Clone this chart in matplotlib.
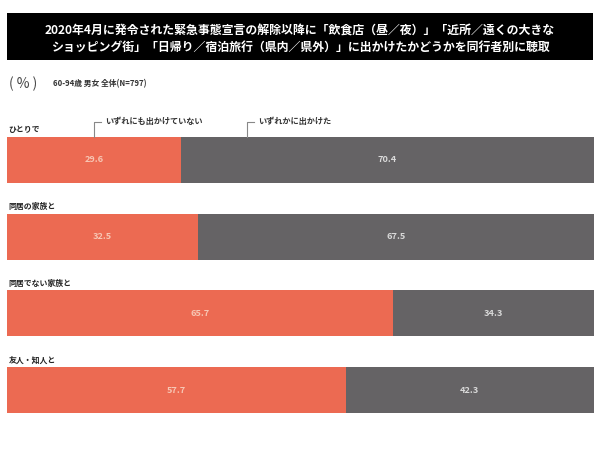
import matplotlib
matplotlib.use('Agg')
import matplotlib.pyplot as plt

plt.rcParams['font.family'] = ['Noto Sans CJK JP', 'DejaVu Sans']

categories = ['ひとりで', '同居の家族と', '同居でない家族と', '友人・知人と']
not_out = [29.6, 32.5, 65.7, 57.7]     # いずれにも出かけていない
went_out = [70.4, 67.5, 34.3, 42.3]    # いずれかに出かけた
series_names = ['いずれにも出かけていない', 'いずれかに出かけた']

title_lines = ['2020年4月に発令された緊急事態宣言の解除以降に「飲食店（昼／夜）」「近所／遠くの大きな',
               'ショッピング街」「日帰り／宿泊旅行（県内／県外）」に出かけたかどうかを同行者別に聴取']
unit = '( % )'
sample = '60-94歳 男女 全体(N=797)'

orange = '#EC6A52'
grey = '#656365'

W, H = 600, 455
fig = plt.figure(figsize=(6, 4.55), dpi=100)
fig.patch.set_facecolor('white')

# title box
tax = fig.add_axes([7 / W, 1 - 60 / H, 586 / W, 47 / H])
tax.set_facecolor('black')
tax.set_xticks([])
tax.set_yticks([])
for s in tax.spines.values():
    s.set_visible(False)
tax.text(0.5, 0.62, title_lines[0], color='white', fontsize=8.6, fontweight='bold',
         ha='center', va='center', transform=tax.transAxes)
tax.text(0.5, 0.27, title_lines[1], color='white', fontsize=8.6, fontweight='bold',
         ha='center', va='center', transform=tax.transAxes)

fig.text(9 / W, 1 - 84 / H, unit, fontsize=10, color='#444444', ha='left', va='center')
fig.text(53 / W, 1 - 84 / H, sample, fontsize=5.6, fontweight='bold', color='#333333',
         ha='left', va='center')

# bars
step = 76.7
top_px = 160 - step / 2
bot_px = 390 + step / 2
ax = fig.add_axes([7 / W, 1 - bot_px / H, 587 / W, (bot_px - top_px) / H])
ys = list(range(len(categories)))
bh = 46 / step
ax.barh(ys, not_out, height=bh, color=orange, edgecolor='none')
ax.barh(ys, went_out, left=not_out, height=bh, color=grey, edgecolor='none')
ax.set_xlim(0, 100)
ax.set_ylim(len(categories) - 0.5, -0.5)
ax.axis('off')

for y, cat, a, b in zip(ys, categories, not_out, went_out):
    ax.text(0.3, y - bh / 2 - 7 / step, cat, fontsize=5.7, fontweight='bold',
            color='#222222', ha='left', va='center')
    ax.text(a / 2, y, f'{a:.1f}', fontsize=6.6, fontweight='bold', color='#F7C6B4',
            ha='center', va='center')
    ax.text(a + b / 2, y, f'{b:.1f}', fontsize=6.6, fontweight='bold', color='#D9D9D9',
            ha='center', va='center')

# legend callouts above first bar
bar_top = -bh / 2
cy = bar_top - 15 / step
for xpos, name in zip([not_out[0] / 2, 40.9], series_names):
    ax.plot([xpos, xpos, xpos + 1.2], [bar_top, cy, cy], color='#888888', lw=0.8,
            clip_on=False)
    ax.text(xpos + 1.9, cy, name, fontsize=5.9, fontweight='bold', color='#333333',
            ha='left', va='center')

fig.savefig('out.png', dpi=100, facecolor='white')
